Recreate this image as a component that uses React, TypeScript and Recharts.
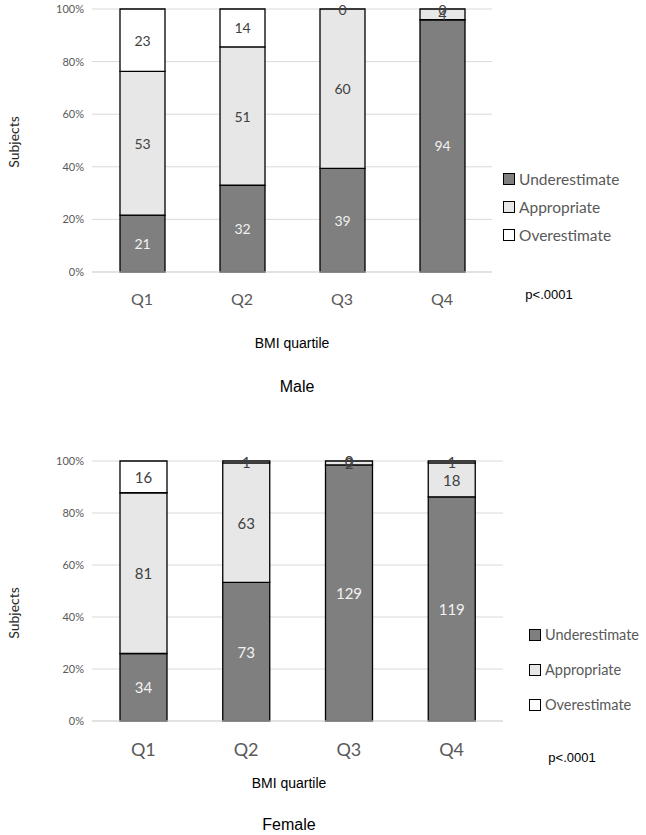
import { BarChart, Bar, XAxis, YAxis, CartesianGrid, Legend, LabelList } from "recharts";

const quartiles = ["Q1", "Q2", "Q3", "Q4"];
const maleUnder = [21, 32, 39, 94];
const maleAppropriate = [53, 51, 60, 4];
const maleOver = [23, 14, 0, 0];
const femaleUnder = [34, 73, 129, 119];
const femaleAppropriate = [81, 63, 2, 18];
const femaleOver = [16, 1, 0, 1];
const yTicks = [0, 0.2, 0.4, 0.6, 0.8, 1];
const seriesNames = ["Underestimate", "Appropriate", "Overestimate"];
const keys = ["under", "appropriate", "over"];

const FONT = "Lato, 'Open Sans', sans-serif";
const ARIAL = "'Liberation Sans', Arial, sans-serif";
const colors = ["#7f7f7f", "#e7e7e7", "#ffffff"];

const buildRows = (under, appr, over) =>
  quartiles.map((q, i) => ({ q, under: under[i], appropriate: appr[i], over: over[i] }));

const LegendBox = ({ payload, gap, fontSize }) => {
  const items = [...(payload || [])].sort(
    (a, b) => seriesNames.indexOf(a.value) - seriesNames.indexOf(b.value)
  );
  return (
    <div style={{ fontFamily: FONT, fontSize, color: "#595959" }}>
      {items.map((p) => (
        <div key={p.value} style={{ display: "flex", alignItems: "center", height: gap, whiteSpace: "nowrap" }}>
          <span
            style={{
              width: 10,
              height: 10,
              border: "1px solid #000",
              background: p.color,
              marginRight: 4,
              display: "inline-block",
              flex: "none",
            }}
          />
          {p.value}
        </div>
      ))}
    </div>
  );
};

const Panel = (cfg) => {
  const data = buildRows(cfg.under, cfg.appr, cfg.over);
  const H = cfg.height;
  const axisH = 40;
  const margin = {
    top: cfg.plotTop - cfg.top,
    right: 646 - cfg.plotRight,
    left: 0,
    bottom: H - (cfg.plotBottom - cfg.top) - axisH,
  };
  const center = (x, y, size, text, extra = {}) => (
    <div
      style={{
        position: "absolute",
        left: x,
        top: y,
        transform: "translate(-50%, -50%)",
        fontFamily: ARIAL,
        fontSize: size,
        lineHeight: 1,
        color: "#000",
        whiteSpace: "nowrap",
        ...extra,
      }}
    >
      {text}
    </div>
  );

  // zero-height segments are skipped by the label list, so the segment below
  // also writes the label of any empty segment sitting on top of it
  const labelContent = (i) => (p) => {
    const idx = p.index;
    const cx = Number(p.x) + Number(p.width) / 2;
    const txt = (y, v, fill, k) => (
      <text
        key={k}
        x={cx}
        y={y}
        textAnchor="middle"
        dominantBaseline="central"
        fill={fill}
        fontSize={cfg.labelFont}
        fontFamily={FONT}
      >
        {v}
      </text>
    );
    const extra = [];
    if (idx != null && i < keys.length - 1) {
      const row = data[idx];
      for (let j = i + 1; j < keys.length; j++) {
        if (row[keys[j]] !== 0) break;
        extra.push(txt(Number(p.y), 0, "#404040", `z${j}`));
      }
    }
    return (
      <g>
        {txt(Number(p.y) + Number(p.height) / 2, p.value, i === 0 ? "#f2f2f2" : "#404040", "main")}
        {extra}
      </g>
    );
  };

  return (
    <div style={{ position: "absolute", left: 0, top: cfg.top, width: 646, height: H }}>
      <BarChart width={646} height={H} data={data} stackOffset="expand" margin={margin} barSize={cfg.barSize}>
        <CartesianGrid vertical={false} stroke="#d9d9d9" />
        <XAxis
          dataKey="q"
          height={axisH}
          tickLine={false}
          axisLine={{ stroke: "#d9d9d9" }}
          tickMargin={cfg.tickMargin}
          tick={{ fill: "#595959", fontSize: cfg.qFont, fontFamily: FONT }}
        />
        <YAxis
          width={92}
          domain={[0, 1]}
          ticks={yTicks}
          tickFormatter={(v) => `${Math.round(v * 100)}%`}
          axisLine={false}
          tickLine={false}
          tick={{ fill: "#595959", fontSize: 11, fontFamily: FONT }}
        />
        <Legend
          layout="vertical"
          align="center"
          verticalAlign="middle"
          wrapperStyle={{ left: cfg.legendLeft, top: cfg.legendTop - cfg.top, width: 115 }}
          content={(props) => <LegendBox payload={props.payload} gap={cfg.legendGap} fontSize={cfg.legendFont} />}
        />
        {keys.map((key, i) => (
          <Bar
            key={key}
            dataKey={key}
            name={seriesNames[i]}
            stackId="a"
            fill={colors[i]}
            stroke="#000"
            strokeWidth={1.3}
            isAnimationActive={false}
          >
            <LabelList dataKey={key} content={labelContent(i)} />
          </Bar>
        ))}
      </BarChart>
      {center(14, cfg.subjectsY - cfg.top, 14, "Subjects", {
        transform: "translate(-50%, -50%) rotate(-90deg)",
        fontFamily: FONT,
        color: "#262626",
      })}
      {center(cfg.xTitleX, cfg.xTitleY - cfg.top, cfg.xTitleFont, "BMI quartile")}
      {center(cfg.titleX, cfg.titleY - cfg.top, cfg.titleFont, cfg.title)}
      {center(cfg.pX, cfg.pY - cfg.top, cfg.pFont, "p<.0001", {
        fontFamily: "'Liberation Sans Narrow', 'Liberation Sans', Arial, sans-serif",
      })}
    </div>
  );
};

export default function App() {
  return (
    <div style={{ position: "absolute", left: 0, top: 0, width: 646, height: 835, background: "#fff", overflow: "hidden" }}>
      <Panel
        top={0}
        height={420}
        plotTop={9}
        plotBottom={272}
        plotRight={492}
        barSize={45}
        qFont={16}
        tickMargin={16}
        labelFont={14}
        under={maleUnder}
        appr={maleAppropriate}
        over={maleOver}
        legendLeft={503}
        legendTop={165}
        legendGap={28}
        legendFont={15.5}
        subjectsY={142}
        xTitleX={292}
        xTitleY={343}
        xTitleFont={14}
        titleX={297}
        titleY={387}
        titleFont={16}
        title="Male"
        pX={549}
        pY={294}
        pFont={13}
      />
      <Panel
        top={430}
        height={405}
        plotTop={461}
        plotBottom={721}
        plotRight={503}
        barSize={47}
        qFont={18}
        tickMargin={16}
        labelFont={15}
        under={femaleUnder}
        appr={femaleAppropriate}
        over={femaleOver}
        legendLeft={529}
        legendTop={617}
        legendGap={35}
        legendFont={14.5}
        subjectsY={613}
        xTitleX={289}
        xTitleY={783}
        xTitleFont={14}
        titleX={289}
        titleY={825}
        titleFont={16}
        title="Female"
        pX={572}
        pY={757}
        pFont={13}
      />
    </div>
  );
}
